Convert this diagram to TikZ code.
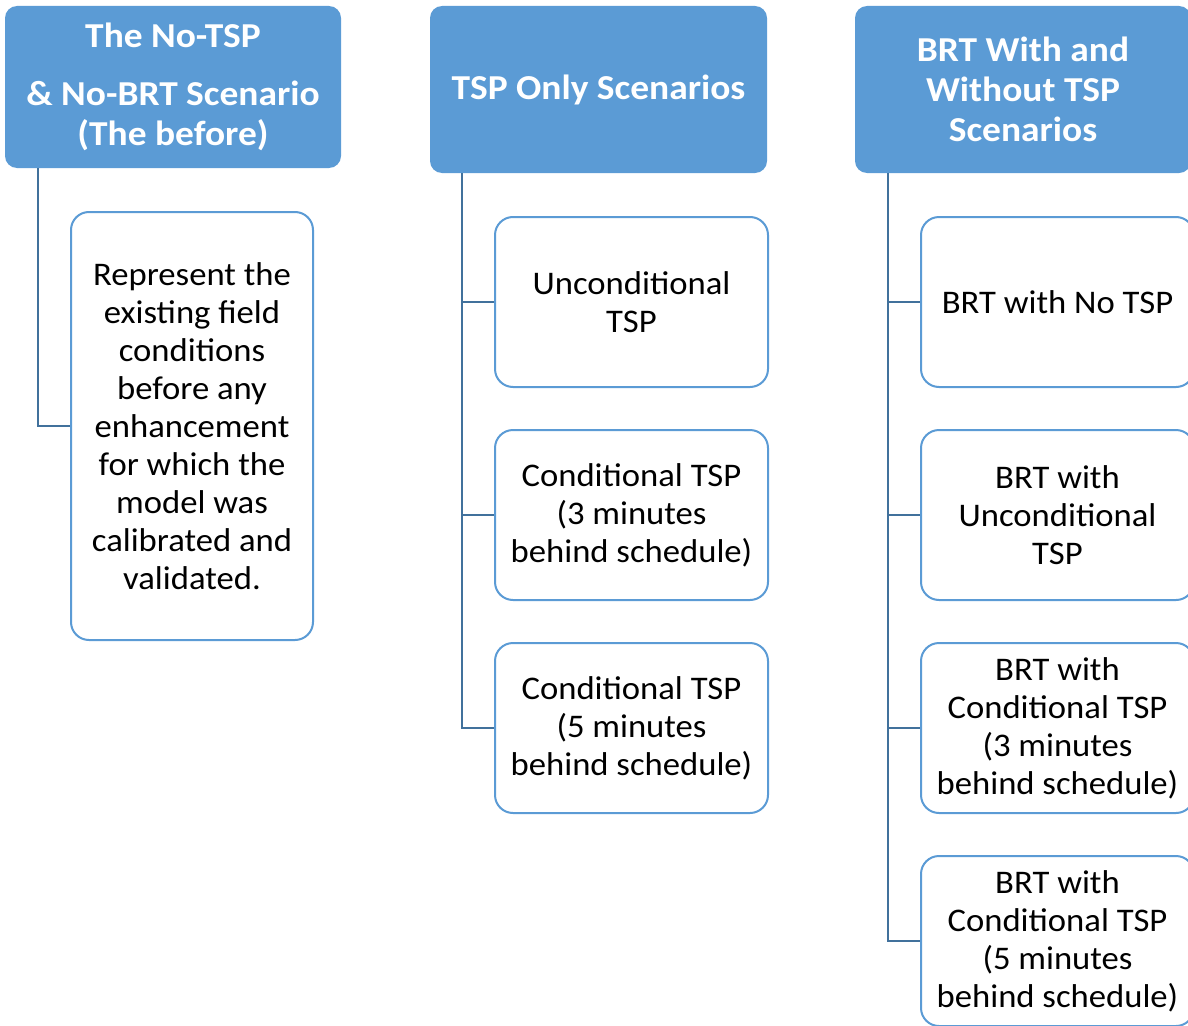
\documentclass[tikz,border=0pt]{standalone}
\usepackage{fontspec}
\setmainfont{Carlito}
\newfontfamily\headfont[FakeStretch=1.07]{Carlito}
\newfontfamily\itemfont[FakeStretch=1.05]{Carlito}
\definecolor{headblue}{HTML}{5B9BD5}
\definecolor{boxblue}{HTML}{5B9BD5}
\definecolor{linkblue}{HTML}{41719C}
\tikzset{
  headbox/.style={fill=headblue, rounded corners=12pt, text=white,
    font=\headfont\bfseries\fontsize{35}{40}\selectfont, align=center,
    inner sep=0pt, minimum width=336pt},
  itembox/.style={draw=boxblue, line width=2pt, fill=white, rounded corners=18pt,
    font=\itemfont\fontsize{33}{38}\selectfont, align=center, inner sep=0pt,
    minimum width=273pt, minimum height=170pt},
  link/.style={draw=linkblue, line width=2.4pt}
}
\begin{document}
\begin{tikzpicture}[x=1pt, y=-1pt]
\useasboundingbox (0,0) rectangle (1188,1025);
\clip (0,0) rectangle (1188,1025);

% column headers
\node[headbox, minimum height=162pt] (h1) at (173,87)
  {The No-TSP\\[18pt]\& No-BRT Scenario\\(The before)};
\node[headbox, minimum width=337pt, minimum height=167pt] (h2) at (598.5,89.5)
  {TSP Only Scenarios};
\node[headbox, minimum height=167pt] (h3) at (1023,89.5)
  {BRT With and\\Without TSP\\Scenarios};

% first column
\node[itembox, minimum width=242pt, minimum height=428pt] (c11) at (192,426)
  {Represent the\\existing field\\conditions\\before any\\enhancement\\for which the\\model was\\calibrated and\\validated.};

% second column
\node[itembox] (c21) at (631.5,302) {Unconditional\\TSP};
\node[itembox] (c22) at (631.5,515) {Conditional TSP\\(3 minutes\\behind schedule)};
\node[itembox] (c23) at (631.5,728) {Conditional TSP\\(5 minutes\\behind schedule)};

% third column
\node[itembox] (c31) at (1057.5,302) {BRT with No TSP};
\node[itembox] (c32) at (1057.5,515) {BRT with\\Unconditional\\TSP};
\node[itembox] (c33) at (1057.5,728) {BRT with\\Conditional TSP\\(3 minutes\\behind schedule)};
\node[itembox] (c34) at (1057.5,941) {BRT with\\Conditional TSP\\(5 minutes\\behind schedule)};

% connectors from each header down to its items
\draw[link] ([xshift=33pt]h1.south west) |- (c11.west);
\foreach \c in {c21,c22,c23}
  \draw[link] ([xshift=32pt]h2.south west) |- (\c.west);
\foreach \c in {c31,c32,c33,c34}
  \draw[link] ([xshift=33pt]h3.south west) |- (\c.west);
\end{tikzpicture}
\end{document}
